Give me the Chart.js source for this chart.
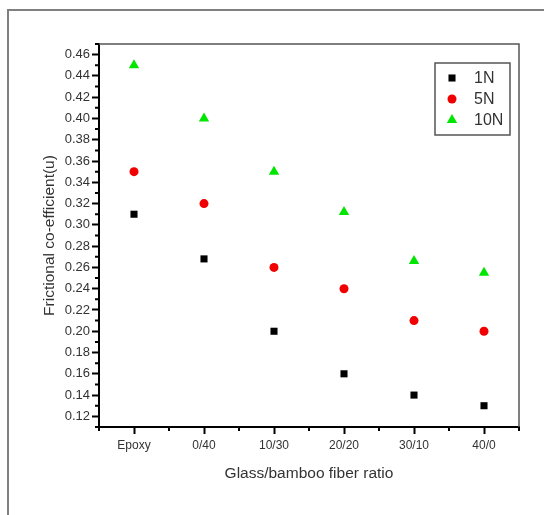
<!DOCTYPE html>
<html>
<head>
<meta charset="utf-8">
<script src="https://cdn.jsdelivr.net/npm/chart.js@4.4.1/dist/chart.umd.min.js"></script>
<style>
  html, body { margin: 0; padding: 0; background: #fff; }
</style>
</head>
<body>
<canvas id="myChart" width="544" height="515"></canvas>
<script>
// data
const ratios = ['Epoxy', '0/40', '10/30', '20/20', '30/10', '40/0'];
const load1N = [0.31, 0.268, 0.20, 0.16, 0.14, 0.13];
const load5N = [0.35, 0.32, 0.26, 0.24, 0.21, 0.20];
const load10N = [0.45, 0.40, 0.35, 0.312, 0.266, 0.255];
const yTickValues = [0.12, 0.14, 0.16, 0.18, 0.20, 0.22, 0.24, 0.26, 0.28, 0.30,
                     0.32, 0.34, 0.36, 0.38, 0.40, 0.42, 0.44, 0.46];

Chart.defaults.font.family = "'Liberation Sans', Arial, sans-serif";
Chart.defaults.color = '#333';

function pts(vals) {
  return vals.map((v, i) => ({ x: i, y: v }));
}

// frame, plot border, minor ticks and boxed legend
const extras = {
  id: 'extras',
  beforeDraw(chart) {
    const c = chart.ctx;
    c.save();
    c.fillStyle = '#fff';
    c.fillRect(0, 0, chart.width, chart.height);
    c.strokeStyle = '#808080';
    c.lineWidth = 2;
    c.beginPath();
    c.moveTo(8, chart.height);
    c.lineTo(8, 10);
    c.lineTo(chart.width, 10);
    c.stroke();
    c.restore();
  },
  afterDraw(chart) {
    const c = chart.ctx;
    const a = chart.chartArea;
    const xs = chart.scales.x, ys = chart.scales.y;
    c.save();
    // top and right border
    c.strokeStyle = '#555';
    c.lineWidth = 1.5;
    c.beginPath();
    c.moveTo(a.left, a.top);
    c.lineTo(a.right, a.top);
    c.lineTo(a.right, a.bottom);
    c.stroke();

    // minor ticks
    c.strokeStyle = '#000';
    c.lineWidth = 2;
    c.beginPath();
    for (let i = -1; i < yTickValues.length; i++) {
      let v;
      if (i < 0) v = yTickValues[0] - 0.01;
      else if (i == yTickValues.length - 1) v = yTickValues[i] + 0.01;
      else v = (yTickValues[i] + yTickValues[i + 1]) / 2;
      const y = ys.getPixelForValue(v);
      c.moveTo(a.left, y);
      c.lineTo(a.left - 4, y);
    }
    for (let i = 0; i <= ratios.length; i++) {
      const x = xs.getPixelForValue(i - 0.5);
      c.moveTo(x, a.bottom);
      c.lineTo(x, a.bottom + 4);
    }
    c.stroke();

    // legend box
    const bw = 75, bh = 72;
    const bx = a.right - 84, by = a.top + 19;
    c.strokeStyle = '#555';
    c.lineWidth = 1.5;
    c.strokeRect(bx, by, bw, bh);
    c.font = '16px ' + Chart.defaults.font.family;
    c.textBaseline = 'middle';
    c.textAlign = 'left';
    chart.data.datasets.forEach((ds, i) => {
      const y = by + 15 + i * 21;
      c.fillStyle = ds.backgroundColor;
      c.strokeStyle = ds.backgroundColor;
      Chart.helpers.drawPoint(c, { pointStyle: ds.pointStyle, radius: ds.pointRadius, rotation: 0, borderWidth: 0 }, bx + 17, y);
      c.fillStyle = '#333';
      c.fillText(ds.label, bx + 39, y + 1);
    });
    c.restore();
  }
};

const ctx = document.getElementById('myChart');
new Chart(ctx, {
  type: 'scatter',
  data: {
    datasets: [
      { label: '1N', data: pts(load1N), pointStyle: 'rect', pointRadius: 5, backgroundColor: '#000', borderColor: '#000', borderWidth: 0 },
      { label: '5N', data: pts(load5N), pointStyle: 'circle', pointRadius: 4.5, backgroundColor: '#f00000', borderColor: '#f00000', borderWidth: 0 },
      { label: '10N', data: pts(load10N), pointStyle: 'triangle', pointRadius: 6, backgroundColor: '#00e600', borderColor: '#00e600', borderWidth: 0 }
    ]
  },
  options: {
    responsive: false,
    animation: false,
    layout: { padding: { left: 0, top: 44, right: 25, bottom: 0 } },
    plugins: {
      legend: { display: false },
      tooltip: { enabled: false }
    },
    scales: {
      x: {
        type: 'linear',
        min: -0.5,
        max: ratios.length - 0.5,
        afterBuildTicks: s => { s.ticks = ratios.map((r, i) => ({ value: i })); },
        afterFit: s => { s.height = 88; },
        grid: { drawOnChartArea: false, tickLength: 7, tickWidth: 2, tickColor: '#000' },
        border: { color: '#000', width: 2 },
        ticks: {
          padding: 4,
          font: { size: 12 },
          maxRotation: 0,
          callback: v => ratios[v]
        },
        title: {
          display: true,
          text: 'Glass/bamboo fiber ratio',
          font: { size: 15.5 },
          color: '#333',
          padding: { top: 0, bottom: 32 }
        }
      },
      y: {
        min: 0.11,
        max: 0.47,
        afterBuildTicks: s => { s.ticks = yTickValues.map(v => ({ value: v })); },
        afterFit: s => { s.width = 99; },
        grid: { drawOnChartArea: false, tickLength: 7, tickWidth: 2, tickColor: '#000' },
        border: { color: '#000', width: 2 },
        ticks: {
          padding: 2,
          font: { size: 13 },
          callback: v => v.toFixed(2)
        },
        title: {
          display: true,
          text: 'Frictional co-efficient(u)',
          font: { size: 15.5 },
          color: '#333',
          padding: { top: 40, bottom: 0 }
        }
      }
    }
  },
  plugins: [extras]
});
</script>
</body>
</html>
